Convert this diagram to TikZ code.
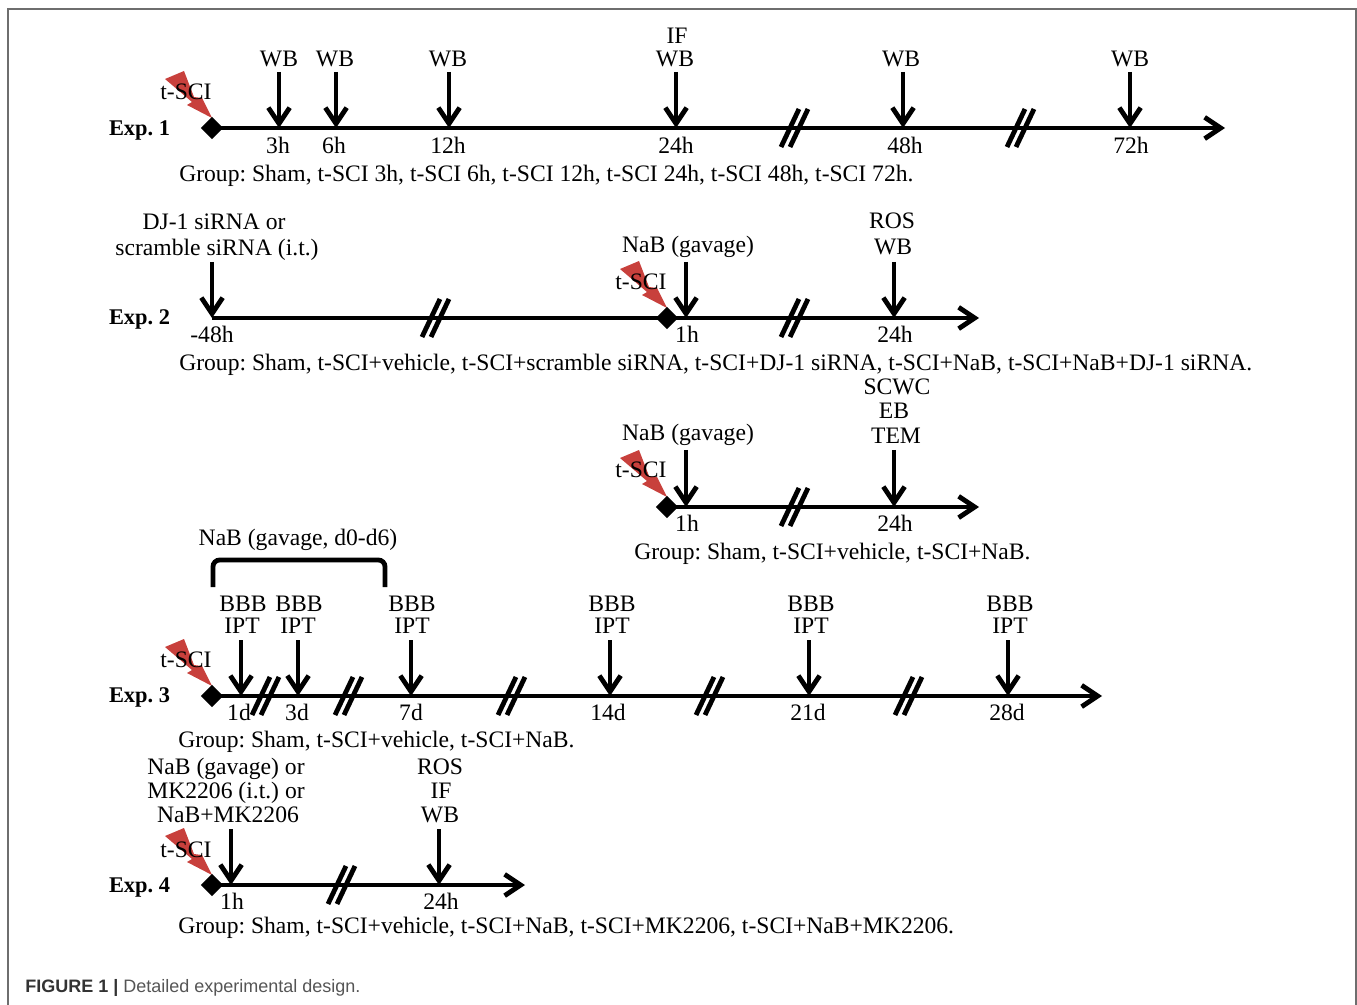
\documentclass[tikz,border=0pt]{standalone}
\usepackage{fontspec}
\setmainfont{Liberation Serif}
\newfontfamily\capfont{Liberation Sans}
\usetikzlibrary{arrows.meta,shapes.geometric}
\definecolor{boltred}{HTML}{C8403C}
\definecolor{framegray}{HTML}{6E6E6E}
\definecolor{capgray}{HTML}{555555}
\newcommand{\boltat}[2]{\fill[boltred,shift={(#1,#2)}] (-47,-49) -- (-28,-57) -- (-18,-31) -- (-10,-30) -- (0,-10) -- (-25,-23) -- (-20,-26) -- cycle;}
\newcommand{\lab}[4]{\node[txt] (#1) at (#2,#3) {#4};}
\newcommand{\lft}[4]{\node[txt,anchor=base west] (#1) at (#2,#3) {#4};}
\newcommand{\drop}[4]{\coordinate (#1s) at (#2,#3); \coordinate (#1e) at (#2,#4); \draw[arr] (#1s) -- (#1e);}
\newcommand{\brk}[3]{\coordinate (#1a) at (#2-13,#3+19); \coordinate (#1b) at (#2+5,#3-19);
  \coordinate (#1c) at (#2-4,#3+19); \coordinate (#1d) at (#2+14,#3-19);
  \draw[brkline] (#1a) -- (#1b); \draw[brkline] (#1c) -- (#1d);}
\begin{document}
\frenchspacing
\begin{tikzpicture}[x=0.75pt,y=-0.75pt,
  txt/.style={inner sep=0pt,anchor=base,yshift=-0.6pt,font=\fontsize{17.7}{20}\selectfont\frenchspacing},
  axis/.style={line width=3.6pt,-{Straight Barb[length=12pt,width=16pt,line width=3.6pt]}},
  arr/.style={line width=3.6pt,-{Straight Barb[length=12pt,width=16pt,line width=3.6pt]}},
  brkline/.style={line width=3.6pt},
  dia/.style={diamond,aspect=1,fill=black,inner sep=0pt,minimum size=17pt},
  frameline/.style={framegray,line width=0.9pt}]
\useasboundingbox (0,0) rectangle (1357,1005);
% frame
\coordinate (f1) at (8,1005); \coordinate (f2) at (8,9);
\coordinate (f3) at (1356,9); \coordinate (f4) at (1356,1005);
\draw[frameline] (f1) -- (f2) -- (f3) -- (f4);
% bolts
\boltat{212}{128}\boltat{667}{318}\boltat{667}{507}\boltat{212}{696}\boltat{212}{885}
% axes
\node[dia] (d1) at (212,128) {};
\coordinate (e1) at (1225,128);
\draw[axis] (d1.center) -- (e1);
\coordinate (s2) at (212,318); \coordinate (e2) at (979,318);
\draw[axis] (s2) -- (e2);
\node[dia] (d2) at (667,318) {};
\node[dia] (d2b) at (667,507) {};
\coordinate (e2b) at (979,507);
\draw[axis] (d2b.center) -- (e2b);
\node[dia] (d3) at (212,696) {};
\coordinate (e3) at (1102,696);
\draw[axis] (d3.center) -- (e3);
\node[dia] (d4) at (212,885) {};
\coordinate (e4) at (525,885);
\draw[axis] (d4.center) -- (e4);
% breaks
\brk{ba}{794}{128}\brk{bb}{1020}{128}
\brk{bc}{435}{318}\brk{bd}{794}{318}
\brk{be}{794}{507}
\brk{bf}{265}{696}\brk{bg}{348}{696}\brk{bh}{511}{696}\brk{bi}{709}{696}\brk{bj}{908}{696}
\brk{bk}{341}{885}
% arrows exp 1
\drop{a1}{279}{72}{128}\drop{a2}{336}{72}{128}\drop{a3}{449}{72}{128}
\drop{a4}{676}{72}{128}\drop{a5}{903}{72}{128}\drop{a6}{1130}{72}{128}
% exp 2
\drop{a7}{212}{262}{318}\drop{a8}{686}{262}{318}\drop{a9}{894}{262}{318}
\drop{a10}{686}{450}{507}\drop{a11}{894}{450}{507}
% exp 3
\drop{a12}{241}{640}{696}\drop{a13}{298}{640}{696}\drop{a14}{411}{640}{696}
\drop{a15}{610}{640}{696}\drop{a16}{809}{640}{696}\drop{a17}{1008}{640}{696}
% exp 4
\drop{a18}{231}{829}{885}\drop{a19}{439}{829}{885}
% bracket
\coordinate (ba1) at (213,587); \coordinate (ba2) at (213,560);
\coordinate (ba3) at (385,560); \coordinate (ba4) at (385,587);
\draw[line width=3.6pt,rounded corners=5pt] (ba1) -- (ba2) -- (ba3) -- (ba4);
% Exp 1 labels
\lab{x1}{139.5}{135}{\fontsize{16.8}{20}\selectfont\bfseries Exp. 1}
\lab{ts1}{186}{99}{t-SCI}
\lab{w1}{279}{66}{WB}\lab{w2}{335}{66}{WB}\lab{w3}{448}{66}{WB}
\lab{if1}{677}{43}{IF}\lab{w4}{675}{66}{WB}\lab{w5}{901}{66}{WB}\lab{w6}{1130}{66}{WB}
\lab{h1}{278}{153}{3h}\lab{h2}{334}{153}{6h}\lab{h3}{448}{153}{12h}
\lab{h4}{676}{153}{24h}\lab{h5}{905}{153}{48h}\lab{h6}{1131}{153}{72h}
\lft{g1}{179}{181}{Group: Sham, t-SCI 3h, t-SCI 6h, t-SCI 12h, t-SCI 24h, t-SCI 48h, t-SCI 72h.}
% Exp 2 labels
\lab{x2}{139.5}{324}{\fontsize{16.8}{20}\selectfont\bfseries Exp. 2}
\lab{dj}{214}{229}{DJ-1 siRNA or}
\lab{sc}{217}{255}{scramble siRNA (i.t.)}
\lab{n2}{688}{252}{NaB (gavage)}
\lab{ro2}{892}{228}{ROS}\lab{w7}{893}{254}{WB}
\lab{ts2}{641}{289}{t-SCI}
\lab{h7}{212}{342}{-48h}\lab{h8}{687}{342}{1h}\lab{h9}{895}{342}{24h}
\lft{g2}{179}{370}{Group: Sham, t-SCI+vehicle, t-SCI+scramble siRNA, t-SCI+DJ-1 siRNA, t-SCI+NaB, t-SCI+NaB+DJ-1 siRNA.}
% Exp 2b labels
\lab{sw}{897}{394}{SCWC}\lab{eb}{894}{418}{EB}\lab{tem}{896}{443}{TEM}
\lab{n2b}{688}{440}{NaB (gavage)}
\lab{ts2b}{641}{477}{t-SCI}
\lab{h10}{687}{531}{1h}\lab{h11}{895}{531}{24h}
\lft{g2b}{634}{559}{Group: Sham, t-SCI+vehicle, t-SCI+NaB.}
% Exp 3 labels
\lab{n3}{298}{545}{NaB (gavage, d0-d6)}
\lab{b1}{243}{611}{BBB}\lab{b2}{299}{611}{BBB}\lab{b3}{412}{611}{BBB}
\lab{b4}{612}{611}{BBB}\lab{b5}{811}{611}{BBB}\lab{b6}{1010}{611}{BBB}
\lab{i1}{242}{633}{IPT}\lab{i2}{298}{633}{IPT}\lab{i3}{412}{633}{IPT}
\lab{i4}{612}{633}{IPT}\lab{i5}{811}{633}{IPT}\lab{i6}{1010}{633}{IPT}
\lab{ts3}{186}{667}{t-SCI}
\lab{x3}{139.5}{702}{\fontsize{16.8}{20}\selectfont\bfseries Exp. 3}
\lab{d1l}{239}{720}{1d}\lab{d3l}{297}{720}{3d}\lab{d7l}{411}{720}{7d}
\lab{d14}{608}{720}{14d}\lab{d21}{808}{720}{21d}\lab{d28}{1007}{720}{28d}
\lft{g3}{178}{747}{Group: Sham, t-SCI+vehicle, t-SCI+NaB.}
% Exp 4 labels
\lab{n41}{226}{774}{NaB (gavage) or}\lab{n42}{226}{798}{MK2206 (i.t.) or}\lab{n43}{228}{822}{NaB+MK2206}
\lab{ro4}{440}{774}{ROS}\lab{if4}{441}{798}{IF}\lab{w8}{440}{822}{WB}
\lab{ts4}{186}{857}{t-SCI}
\lab{x4}{139.5}{892}{\fontsize{16.8}{20}\selectfont\bfseries Exp. 4}
\lab{h12}{232}{909}{1h}\lab{h13}{441}{909}{24h}
\lft{g4}{178}{933}{Group: Sham, t-SCI+vehicle, t-SCI+NaB, t-SCI+MK2206, t-SCI+NaB+MK2206.}
% caption
\node[txt,anchor=base west,font=\capfont\fontsize{13.5}{16}\selectfont,text=capgray] (cap) at (25,992)
  {{\bfseries\color{black!80}FIGURE 1 |} Detailed experimental design.};
\end{tikzpicture}
\end{document}
